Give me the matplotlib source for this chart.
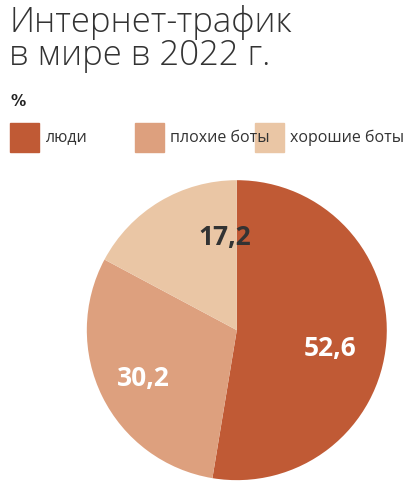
import matplotlib
matplotlib.use("Agg")
import matplotlib.pyplot as plt
from matplotlib.patches import Rectangle

categories = ["люди", "плохие боты", "хорошие боты"]
values = [52.6, 30.2, 17.2]
labels = ["52,6", "30,2", "17,2"]
colors = ["#C05A35", "#DDA07E", "#EAC6A5"]

fig = plt.figure(figsize=(4.14, 4.95), dpi=100)
fig.text(0.022, 0.99, "Интернет-трафик\nв мире в 2022 г.", fontsize=25, va="top",
         ha="left", color="#333333", family="Open Sans", fontweight="light", linespacing=0.95)
fig.text(0.025, 0.81, "%", fontsize=11, fontweight="bold", color="#222222", va="top")

lx = [0.025, 0.325, 0.615]
for x, c, name in zip(lx, colors, categories):
    fig.patches.append(Rectangle((x, 0.692), 0.07, 0.06, transform=fig.transFigure,
                                 color=c, figure=fig))
    fig.text(x + 0.085, 0.722, name, fontsize=11.5, va="center", color="#333333",
             family="Open Sans")

ax = fig.add_axes([0.572 - 0.3623, 0.333 - 0.303, 0.7246, 0.606])
wedges, _ = ax.pie(values, colors=colors, startangle=90, counterclock=False,
                   wedgeprops=dict(linewidth=0))
pos = [(0.62, -0.12), (-0.62, -0.32), (-0.08, 0.62)]
for (x, y), t, c in zip(pos, labels, ["white", "white", "#333333"]):
    ax.text(x, y, t, fontsize=19, fontweight="bold", ha="center", va="center",
            color=c, family="Open Sans")
ax.set_xlim(-1, 1)
ax.set_ylim(-1, 1)
ax.set_aspect("equal")
fig.savefig("out.png", dpi=100)
